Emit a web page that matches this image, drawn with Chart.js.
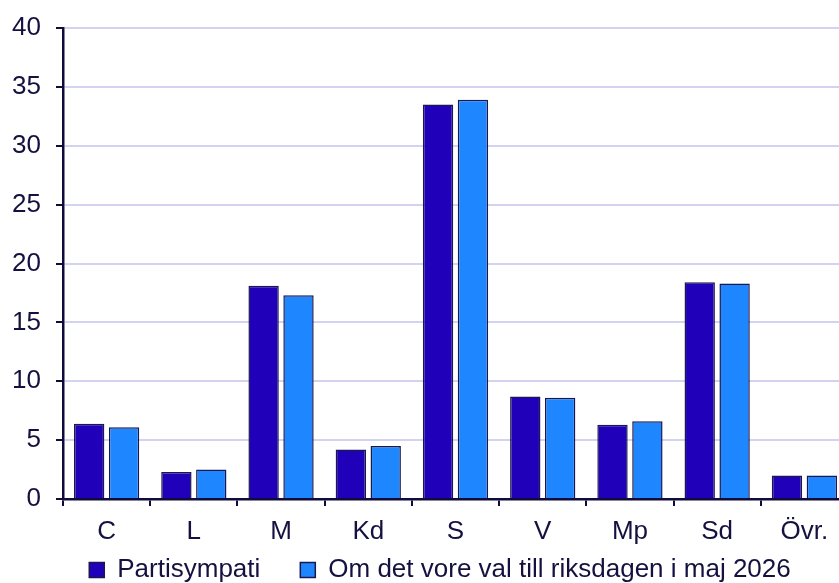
<!DOCTYPE html>
<html>
<head>
<meta charset="utf-8">
<script src="https://cdn.jsdelivr.net/npm/chart.js@4.4.1/dist/chart.umd.min.js"></script>
<style>
  html, body { margin: 0; padding: 0; background: #fff; overflow: hidden; }
  #wrap { width: 880px; height: 583px; overflow: hidden; }
</style>
</head>
<body>
<div id="wrap"><canvas id="partyChart" width="880" height="623"></canvas></div>
<script>
// partier och värden
const parties = ['C', 'L', 'M', 'Kd', 'S', 'V', 'Mp', 'Sd', 'Övr.'];
const partisympati = [6.4, 2.3, 18.1, 4.2, 33.5, 8.7, 6.3, 18.4, 2.0];
const valIdag = [6.1, 2.5, 17.3, 4.5, 33.9, 8.6, 6.6, 18.3, 2.0];
const yTicks = [0, 5, 10, 15, 20, 25, 30, 35, 40];

const ink = '#14103f';
const axisColor = '#0f0c3c';
const fontFam = 'Liberation Sans, Arial, sans-serif';

// legenden ligger närmare axeln än padding tillåter
const liftLegend = {
    id: 'liftLegend',
    afterLayout(chart) {
        const lg = chart.legend;
        lg.top -= 30;
        lg.bottom -= 30;
        lg.left += 16;
        lg.right += 16;
    }
};

const ctx = document.getElementById('partyChart').getContext('2d');
new Chart(ctx, {
    type: 'bar',
    data: {
        labels: parties,
        datasets: [{
            label: 'Partisympati',
            data: partisympati,
            backgroundColor: '#2100b9',
            borderColor: '#1b1850',
            borderWidth: 1.5,
            categoryPercentage: 0.8,
            barPercentage: 0.87
        }, {
            label: 'Om det vore val till riksdagen i maj 2026',
            data: valIdag,
            backgroundColor: '#1e87ff',
            borderColor: '#1b1850',
            borderWidth: 1.5,
            categoryPercentage: 0.8,
            barPercentage: 0.87
        }]
    },
    options: {
        responsive: false,
        animation: false,
        layout: {
            padding: { top: 6, right: 32, left: 0, bottom: 0 }
        },
        scales: {
            x: {
                afterFit: axis => { axis.height = 48; },
                grid: {
                    offset: true,
                    drawOnChartArea: false,
                    color: axisColor,
                    lineWidth: 2,
                    tickLength: 7
                },
                border: { color: axisColor, width: 2.5 },
                ticks: {
                    color: ink,
                    padding: 10,
                    font: { family: fontFam, size: 26 }
                }
            },
            y: {
                min: 0,
                max: 40,
                afterBuildTicks: axis => {
                    axis.ticks = yTicks.map(v => ({ value: v }));
                },
                afterFit: axis => { axis.width = 63; },
                grid: {
                    color: '#d3d3f0',
                    lineWidth: 2,
                    tickColor: axisColor,
                    tickLength: 7
                },
                border: { color: axisColor, width: 2.5 },
                ticks: {
                    color: ink,
                    padding: 15,
                    font: { family: fontFam, size: 26, lineHeight: 1 }
                }
            }
        },
        plugins: {
            legend: {
                position: 'bottom',
                labels: {
                    color: ink,
                    boxWidth: 15,
                    boxHeight: 15,
                    padding: 40,
                    font: { family: fontFam, size: 26 }
                }
            },
            tooltip: { enabled: false }
        }
    },
    plugins: [liftLegend]
});
</script>
</body>
</html>
